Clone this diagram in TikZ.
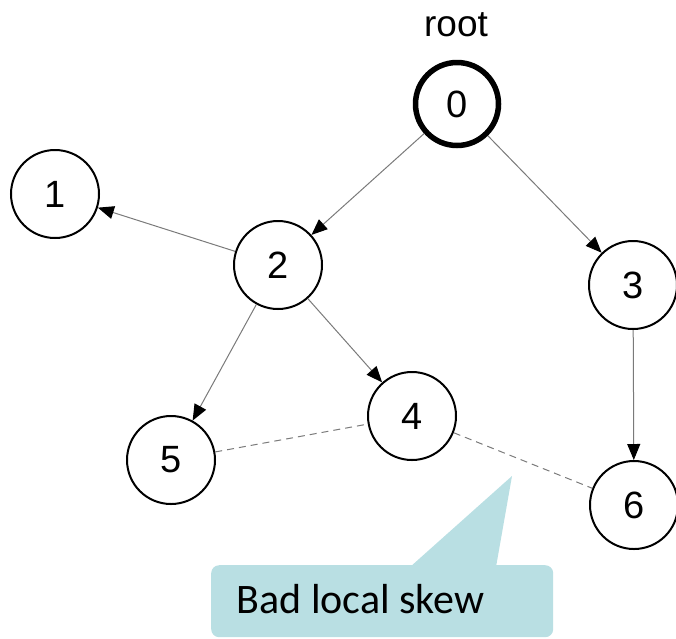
\documentclass[tikz,border=0pt]{standalone}
\usepackage{fontspec}
\setmainfont{Liberation Sans}
\newfontfamily\calloutfont{Carlito}
\usetikzlibrary{arrows.meta}
\definecolor{calloutfill}{HTML}{B9DFE3}
\definecolor{edgegray}{HTML}{7A7A7A}
\tikzset{
    vertex/.style={inner sep=0pt, circle, draw=black, line width=2pt, fill=white, minimum size=88pt, font=\fontsize{38}{42}\selectfont},
    rootvertex/.style={vertex, line width=5.5pt, minimum size=83pt},
    edge/.style={draw=edgegray, line width=1pt, -{Triangle[length=16pt, width=13pt, color=black]}},
    skewline/.style={draw=edgegray, line width=1pt, dash pattern=on 7pt off 5pt},
    calloutbox/.style={inner sep=0pt, fill=calloutfill, rounded corners=8pt, minimum width=342pt, minimum height=72pt},
}

\begin{document}
\begin{tikzpicture}[x=1pt, y=-1pt]
    \useasboundingbox (0,0) rectangle (676,638);
    \node[vertex] (n1) at (55,194) {1};
    \node[vertex] (n2) at (278,265) {2};
    \node[vertex] (n3) at (633,285) {3};
    \node[vertex] (n4) at (412,416) {4};
    \node[vertex] (n5) at (171,460) {5};
    \node[vertex] (n6) at (634,505) {6};
    \node[rootvertex] (n0) at (457,104) {0};
    \node[anchor=base, font=\fontsize{37}{40}\selectfont] (rootlabel) at (456,36) {root};
    \draw[edge] (n0) -- (n2);
    \draw[edge] (n0) -- (n3);
    \draw[edge] (n2) -- (n1);
    \draw[edge] (n2) -- (n5);
    \draw[edge] (n2) -- (n4);
    \draw[edge] (n3) -- (n6);
    \draw[skewline] (n5) -- (n4);
    \draw[skewline] (n4) -- (n6);
    \coordinate (tip) at (512,476);
    \fill[calloutfill] (410,567) -- (tip) -- (496,567) -- cycle;
    \node[calloutbox, anchor=north west] (callout) at (211,565) {};
    \node[anchor=base west, font=\calloutfont\fontsize{42}{46}\selectfont] (skew) at (233,613) {Bad local skew};
\end{tikzpicture}
\end{document}
